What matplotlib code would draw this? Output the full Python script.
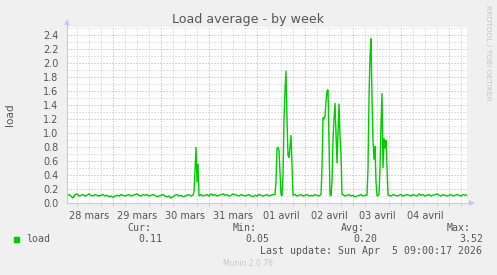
import matplotlib
matplotlib.use("Agg")
import matplotlib.pyplot as plt
from matplotlib.ticker import FixedLocator, NullFormatter

# ---------------- data ----------------
# hours since 28 mars 00:00 ; graph spans 28 mars 01:00 -> 05 avril 09:00
start_hour = 1
end_hour = 201

# hourly baseline load readings (h = 1 .. 201)
baseline_load = [
    0.11, 0.12, 0.10, 0.07, 0.12, 0.13, 0.10, 0.11, 0.12, 0.10, 0.11, 0.13, 0.11, 0.10, 0.12, 0.11, 0.10, 0.11, 0.12, 0.10,
    0.11, 0.09, 0.10, 0.08, 0.10, 0.11, 0.10, 0.12, 0.11, 0.10, 0.11, 0.12, 0.10, 0.11, 0.12, 0.13, 0.11, 0.10, 0.12, 0.11,
    0.12, 0.10, 0.11, 0.12, 0.11, 0.09, 0.10, 0.11, 0.12, 0.10, 0.09, 0.10, 0.07, 0.09, 0.11, 0.12, 0.10, 0.11, 0.09, 0.10,
    0.11, 0.12, 0.10, 0.11, 0.11, 0.10, 0.11, 0.12, 0.10, 0.11, 0.12, 0.10, 0.13, 0.11, 0.12, 0.10, 0.11, 0.12, 0.13, 0.11,
    0.12, 0.10, 0.11, 0.13, 0.12, 0.11, 0.10, 0.12, 0.11, 0.10, 0.11, 0.12, 0.10, 0.09, 0.11, 0.10, 0.12, 0.11, 0.10, 0.11,
    0.12, 0.10, 0.11, 0.12, 0.11, 0.11, 0.11, 0.11, 0.11, 0.11, 0.11, 0.11, 0.11, 0.11, 0.12, 0.10, 0.11, 0.12, 0.10, 0.11,
    0.12, 0.10, 0.11, 0.10, 0.12, 0.11, 0.10, 0.11, 0.11, 0.11, 0.11, 0.11, 0.11, 0.11, 0.11, 0.11, 0.11, 0.11, 0.12, 0.10,
    0.11, 0.12, 0.10, 0.11, 0.09, 0.10, 0.11, 0.12, 0.10, 0.11, 0.11, 0.11, 0.11, 0.11, 0.11, 0.11, 0.11, 0.11, 0.11, 0.11,
    0.11, 0.11, 0.10, 0.12, 0.11, 0.10, 0.11, 0.12, 0.10, 0.11, 0.12, 0.11, 0.10, 0.12, 0.11, 0.10, 0.13, 0.11, 0.12, 0.10,
    0.11, 0.12, 0.10, 0.11, 0.12, 0.13, 0.11, 0.10, 0.12, 0.11, 0.10, 0.11, 0.12, 0.10, 0.11, 0.12, 0.11, 0.10, 0.12, 0.11,
    0.12,
]

# half-hourly readings during the load spikes
spike_hours = [
    64.0, 64.5, 65.0, 65.5, 66.0, 66.5, 67.0,
    105.0, 105.5, 106.0, 106.5, 107.0, 107.5, 108.0, 108.5, 109.0, 109.5, 110.0, 110.5,
    111.0, 111.5, 112.0, 112.5, 113.0, 113.5, 114.0,
    128.0, 128.5, 129.0, 129.5, 130.0, 130.5, 131.0, 131.5, 132.0, 132.5, 133.0, 133.5,
    134.0, 134.5, 135.0, 135.5, 136.0, 136.5, 137.0, 137.5, 138.0, 138.5,
    151.0, 151.5, 152.0, 152.5, 153.0, 153.5, 154.0, 154.5, 155.0, 155.5, 156.0, 156.5,
    157.0, 157.5, 158.0, 158.5, 159.0, 159.5, 160.0, 160.5, 161.0, 161.5,
]
spike_load = [
    0.11, 0.16, 0.45, 0.80, 0.30, 0.56, 0.10,
    0.12, 0.30, 0.78, 0.80, 0.75, 0.45, 0.12, 0.10, 0.40, 1.20, 1.60, 1.89,
    1.20, 0.68, 0.65, 0.80, 0.97, 0.55, 0.11,
    0.12, 0.50, 1.22, 1.20, 1.24, 1.45, 1.60, 1.62, 0.90, 0.12, 0.10, 0.30,
    0.90, 1.20, 1.43, 1.00, 0.57, 1.00, 1.42, 0.95, 0.70, 0.12,
    0.11, 0.50, 1.50, 2.10, 2.35, 1.50, 0.90, 0.62, 0.81, 0.30, 0.11, 0.10,
    0.12, 0.50, 1.10, 1.57, 0.50, 0.92, 0.78, 0.90, 0.50, 0.11,
]
spike_windows = [(64.0, 67.0), (105.0, 114.0), (128.0, 138.5), (151.0, 161.5)]

day_labels = ["28 mars", "29 mars", "30 mars", "31 mars",
              "01 avril", "02 avril", "03 avril", "04 avril"]

legend_name = "load"
stat_names = ["Cur:", "Min:", "Avg:", "Max:"]
stat_values = ["0.11", "0.05", "0.20", "3.52"]
last_update = "Last update: Sun Apr  5 09:00:17 2026"

# ---------------- merge series ----------------
base_hours = list(range(start_hour, end_hour + 1))
pts = []
for h, v in zip(base_hours, baseline_load):
    if any(a <= h <= b for a, b in spike_windows):
        continue
    pts.append((h, v))
pts += list(zip(spike_hours, spike_load))
pts.sort()
xs = [p[0] for p in pts]
ys = [p[1] for p in pts]

# ---------------- figure ----------------
W, H = 497, 275
fig = plt.figure(figsize=(W / 100, H / 100), dpi=100, facecolor="#f0f0f0")
L, R, T, B = 67, 467, 27, 203
ax = fig.add_axes([L / W, 1 - B / H, (R - L) / W, (B - T) / H])
ax.set_facecolor("white")

ax.set_xlim(start_hour, end_hour)
ax.set_ylim(0, 2.515)

txtc = "#555555"
axc = "#c8c8ee"
red = "#e29a9a"
gray = "#cccccc"
dots = (0, (1, 2))

# grid lines
for h in range(6, end_hour, 6):
    if h % 24 == 0:
        continue
    ax.axvline(h, color=gray, lw=0.72, ls=dots, zorder=1)
for h in range(24, end_hour, 24):
    ax.axvline(h, color=red, lw=0.72, ls=dots, zorder=1.5)
yt = [i / 10 for i in range(1, 26)]
for i, y in enumerate(yt, start=1):
    if i % 2 == 1:
        ax.axhline(y, color=gray, lw=0.72, ls=dots, zorder=1)
for i, y in enumerate(yt, start=1):
    if i % 2 == 0:
        ax.axhline(y, color=red, lw=0.72, ls=dots, zorder=1.5)

ax.plot(xs, ys, color="#00cc00", lw=1.0, zorder=3, solid_joinstyle="miter")

# spines / axes
for s in ax.spines.values():
    s.set_visible(False)
ax.plot([0, 0], [0, 1.03], transform=ax.transAxes, color=axc, lw=0.8, clip_on=False, zorder=4)
ax.plot([0, 1.012], [0, 0], transform=ax.transAxes, color=axc, lw=0.8, clip_on=False, zorder=4)
ax.plot([0], [1.03], transform=ax.transAxes, marker="^", color=axc, ms=4.5, clip_on=False, mew=0)
ax.plot([1.012], [0], transform=ax.transAxes, marker=">", color=axc, ms=4.5, clip_on=False, mew=0)

# ticks
ax.xaxis.set_major_locator(FixedLocator([12 + 24 * i for i in range(len(day_labels))]))
ax.set_xticklabels(day_labels)
ax.xaxis.set_minor_locator(FixedLocator(list(range(6, end_hour, 6))))
ax.xaxis.set_minor_formatter(NullFormatter())
ax.tick_params(axis="x", which="major", length=0, pad=6, labelsize=7, labelcolor=txtc)
ax.tick_params(axis="x", which="minor", length=2, width=0.7, color=axc, direction="out")
ax.set_yticks([i / 5 for i in range(0, 13)])
ax.set_yticklabels([f"{i / 5:.1f}" for i in range(0, 13)])
ax.tick_params(axis="y", length=0, pad=6, labelsize=7, labelcolor=txtc)

# texts
fig.text(248 / W, 1 - 19 / H, "Load average - by week", ha="center", va="center",
         fontsize=9.1, color=txtc)
fig.text(10 / W, 1 - 115 / H, "load", rotation=90, ha="center", va="center",
         fontsize=7.6, color=txtc)
fig.text(488 / W, 1 - 53 / H, "RRDTOOL / TOBI OETIKER", rotation=270, ha="center",
         va="center", fontsize=5.4, color="#c4c4c4")

mono = "DejaVu Sans Mono"
fs = 7.1
fig.patches.append(plt.Rectangle((14 / W, 1 - 242 / H), 5 / W, 5 / H,
                                 transform=fig.transFigure, color="#00cc00"))
fig.text(26 / W, 1 - 239.5 / H, legend_name, family=mono, fontsize=fs, color=txtc,
         ha="left", va="center")
name_x = [127, 233, 341, 447]
val_x = [138, 245, 353, 459]
for nx, vx, n, v in zip(name_x, val_x, stat_names, stat_values):
    fig.text(nx / W, 1 - 228 / H, n, family=mono, fontsize=fs, color=txtc, ha="left", va="center")
    fig.text(vx / W, 1 - 239.5 / H, v, family=mono, fontsize=fs, color=txtc, ha="left", va="center")
fig.text(482 / W, 1 - 251 / H, last_update, family=mono, fontsize=fs, color=txtc,
         ha="right", va="center")
fig.text(248 / W, 1 - 264 / H, "Munin 2.0.76", fontsize=5.5, color="#c8c8c8",
         ha="center", va="center")

fig.savefig("out.png", dpi=100, facecolor=fig.get_facecolor())
